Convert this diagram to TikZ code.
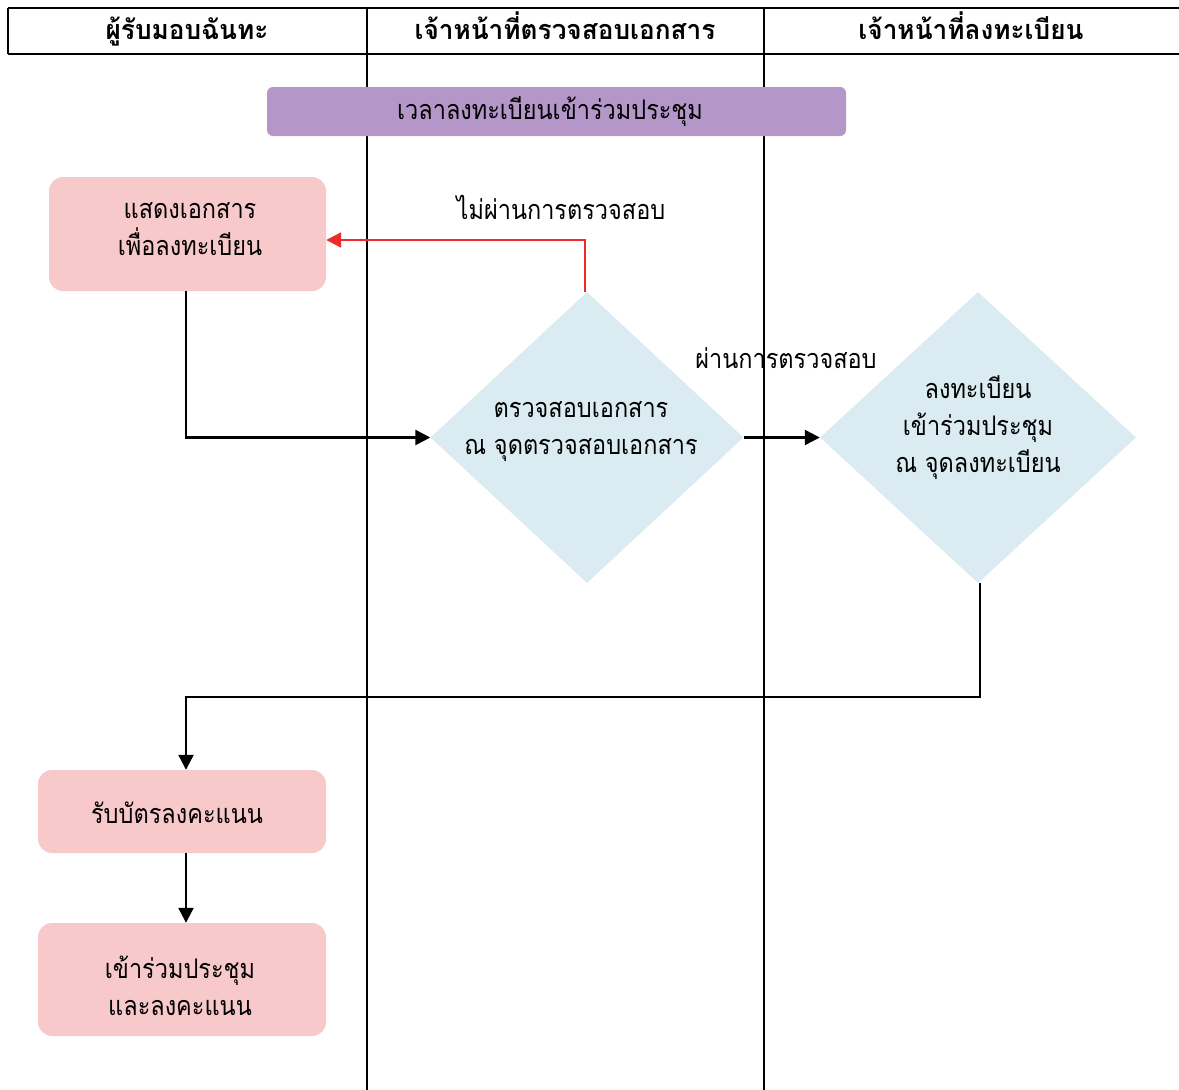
\documentclass[tikz,border=0pt]{standalone}
\usepackage{fontspec}
\newfontfamily\thai[Script=Thai,FakeStretch=0.87]{Loma}
\newfontfamily\thaihead[Script=Thai,FakeStretch=0.97]{Loma}
\usetikzlibrary{shapes.geometric,arrows.meta}
\definecolor{pinkbox}{HTML}{F8C9CA}
\definecolor{purplebox}{HTML}{B596C8}
\definecolor{bluedia}{HTML}{DAEBF1}
\definecolor{redline}{HTML}{EE2A2A}
\tikzset{
  lane/.style={line width=2.3pt,black},
  hdr/.style={font=\thaihead\bfseries\fontsize{27}{30}\selectfont,anchor=base},
  txt/.style={font=\thai\fontsize{27}{37}\selectfont,align=center},
  pinkbox/.style={fill=pinkbox,draw=none,rounded corners=14pt,inner sep=0pt,txt},
  diabox/.style={diamond,fill=bluedia,draw=none,inner sep=0pt,minimum width=313pt,minimum height=291pt,txt},
  conn/.style={line width=2.3pt,black},
  arr/.style={-{Triangle[length=15pt,width=15pt]}},
}
\begin{document}
\begin{tikzpicture}[x=1pt,y=-1pt]
\useasboundingbox (0,0) rectangle (1179,1090);
% swimlane frame
\draw[lane] (8,8) -- (1179,8);
\draw[lane] (8,54) -- (1179,54);
\draw[lane] (8,8) -- (8,54);
\draw[lane] (367,8) -- (367,1090);
\draw[lane] (764,8) -- (764,1090);
\node[hdr] (h1) at (187,39) {ผู้รับมอบฉันทะ};
\node[hdr] (h2) at (565,39) {เจ้าหน้าที่ตรวจสอบเอกสาร};
\node[hdr] (h3) at (971,39) {เจ้าหน้าที่ลงทะเบียน};
% purple banner
\node[fill=purplebox,rounded corners=6pt,minimum width=579pt,minimum height=49pt,inner sep=0pt,txt] (time) at (556.5,111.5) {};
\node[txt] (timet) at (550,112) {เวลาลงทะเบียนเข้าร่วมประชุม};
% boxes
\node[pinkbox,minimum width=277pt,minimum height=114pt] (show) at (187.5,234) {};
\node[txt] (showt) at (190,229) {แสดงเอกสาร\\เพื่อลงทะเบียน};
\node[diabox] (check) at (587,437.5) {};
\node[txt] (checkt) at (581,432) {ตรวจสอบเอกสาร\\ณ จุดตรวจสอบเอกสาร};
\node[diabox,minimum width=316pt] (reg) at (978,437.5) {};
\node[txt] (regt) at (978,428) {ลงทะเบียน\\เข้าร่วมประชุม\\ณ จุดลงทะเบียน};
\node[pinkbox,minimum width=288pt,minimum height=83pt] (card) at (182,811.5) {};
\node[txt] (cardt) at (177,813) {รับบัตรลงคะแนน};
\node[pinkbox,minimum width=288pt,minimum height=113pt] (join) at (182,979.5) {};
\node[txt] (joint) at (180,986) {เข้าร่วมประชุม\\และลงคะแนน};
% labels
\node[txt] (fail) at (561,207) {ไม่ผ่านการตรวจสอบ};
\node[txt] (pass) at (786,358) {ผ่านการตรวจสอบ};
% connectors
\coordinate (c1) at (186,437);
\draw[conn,arr] (show.south -| c1) |- (check.west);
\draw[conn,arr] (check.east) -- (reg.west);
\coordinate (c2) at (585,240);
\draw[line width=2.3pt,redline,arr] (check.north -| c2) -- (c2) -- (show.east |- c2);
\coordinate (c3) at (980,697);
\coordinate (c4) at (186,697);
\draw[conn,arr] (reg.south -| c3) -- (c3) -- (c4) -- (card.north -| c4);
\draw[conn,arr] (card.south -| c4) -- (join.north -| c4);
\end{tikzpicture}
\end{document}
